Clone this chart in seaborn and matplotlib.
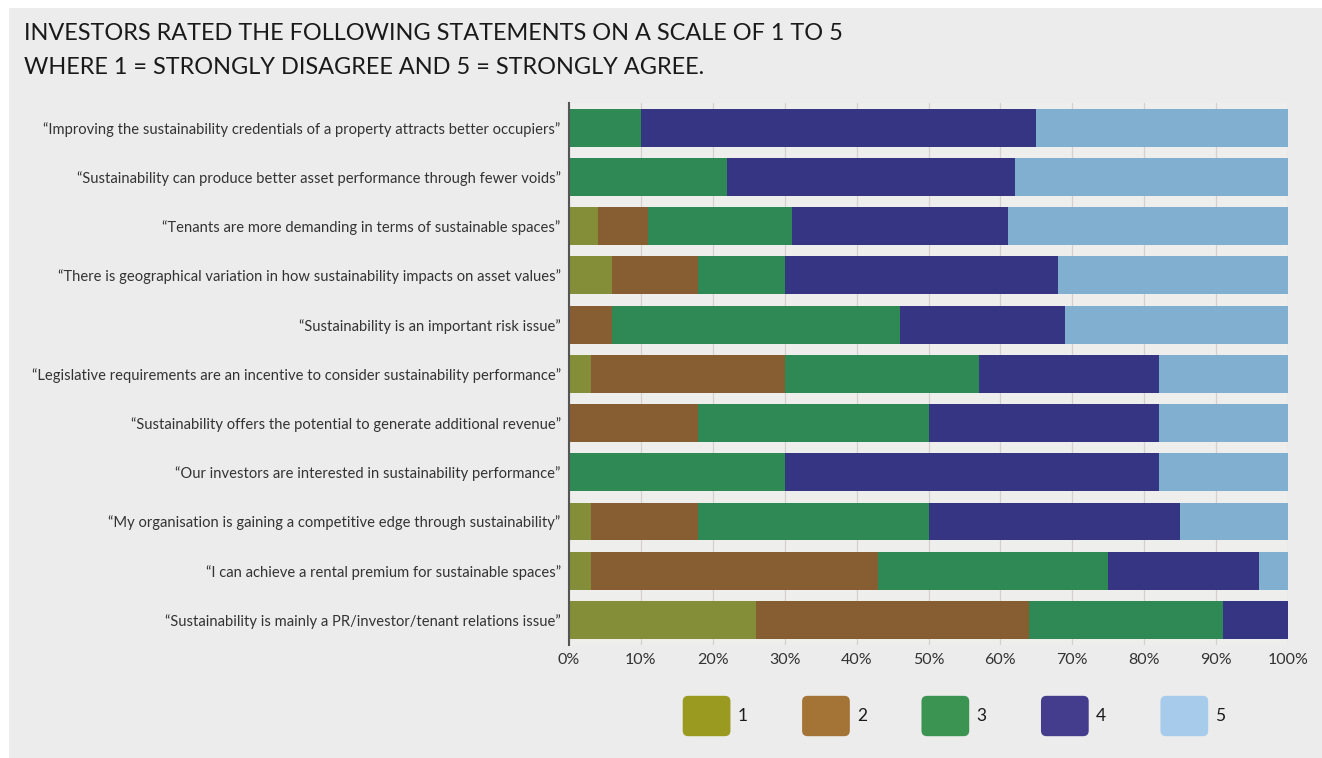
import matplotlib
matplotlib.use("Agg")
import matplotlib.pyplot as plt
import seaborn as sns
import numpy as np
import pandas as pd
from matplotlib.patches import Patch, Rectangle, FancyBboxPatch
from matplotlib.legend_handler import HandlerPatch

statements = [
    "\u201cImproving the sustainability credentials of a property attracts better occupiers\u201d",
    "\u201cSustainability can produce better asset performance through fewer voids\u201d",
    "\u201cTenants are more demanding in terms of sustainable spaces\u201d",
    "\u201cThere is geographical variation in how sustainability impacts on asset values\u201d",
    "\u201cSustainability is an important risk issue\u201d",
    "\u201cLegislative requirements are an incentive to consider sustainability performance\u201d",
    "\u201cSustainability offers the potential to generate additional revenue\u201d",
    "\u201cOur investors are interested in sustainability performance\u201d",
    "\u201cMy organisation is gaining a competitive edge through sustainability\u201d",
    "\u201cI can achieve a rental premium for sustainable spaces\u201d",
    "\u201cSustainability is mainly a PR/investor/tenant relations issue\u201d",
]
rating1 = [0, 0, 4, 6, 0, 3, 0, 0, 3, 3, 26]
rating2 = [0, 0, 7, 12, 6, 27, 18, 0, 15, 40, 38]
rating3 = [10, 22, 20, 12, 40, 27, 32, 30, 32, 32, 27]
rating4 = [55, 40, 30, 38, 23, 25, 32, 52, 35, 21, 9]
rating5 = [35, 38, 39, 32, 31, 18, 18, 18, 15, 4, 0]
legend_labels = ["1", "2", "3", "4", "5"]
tick_labels = ["0%", "10%", "20%", "30%", "40%", "50%", "60%", "70%", "80%", "90%", "100%"]

bar_colors = ["#848d37", "#875d32", "#2f8955", "#363583", "#80afcf"]
legend_colors = ["#9a9a20", "#a37436", "#3c9453", "#443d8d", "#a6cbeb"]


class RoundHandler(HandlerPatch):
    def create_artists(self, legend, orig_handle, xdescent, ydescent, width, height,
                       fontsize, trans):
        p = FancyBboxPatch((-xdescent + 2, -ydescent + 2), width - 4, height - 4,
                           boxstyle="round,pad=2,rounding_size=4",
                           facecolor=orig_handle.get_facecolor(), edgecolor="none",
                           transform=trans)
        return [p]


sns.set_theme(style="white")
plt.rcParams["font.family"] = ["Lato", "DejaVu Sans"]

fig = plt.figure(figsize=(13.22, 7.58), dpi=100)
fig.patch.set_facecolor("white")
fig.patches.append(Rectangle((9 / 1322, 0), 1, 1 - 8 / 758, transform=fig.transFigure,
                             facecolor="#ebeceb", edgecolor="none", zorder=-10))

ax = fig.add_axes([569 / 1322, 1 - 644.6 / 758, 719 / 1322, 541.6 / 758])
ax.set_facecolor("#eeefed")

series = [rating1, rating2, rating3, rating4, rating5]
cum = np.cumsum(np.array(series), axis=0)
for i in range(4, -1, -1):
    df = pd.DataFrame({"statement": statements, "value": cum[i]})
    sns.barplot(data=df, x="value", y="statement", orient="h", color=bar_colors[i],
                saturation=1, width=0.77, ax=ax, linewidth=0, zorder=3)

ax.set_xlim(0, 100)
ax.set_ylim(10.5, -0.5)
ax.set_xticks(np.arange(0, 101, 10))
ax.set_xticklabels(tick_labels)
ax.set_xlabel("")
ax.set_ylabel("")
ax.grid(axis="x", color="#d6cfcf", linewidth=0.9, zorder=0)
ax.set_axisbelow(True)
for s in ["top", "right", "bottom"]:
    ax.spines[s].set_visible(False)
ax.spines["left"].set_color("#555555")
ax.spines["left"].set_linewidth(1.5)
ax.spines["left"].set_zorder(5)
ax.tick_params(axis="x", length=0, pad=6, labelsize=11.5, labelcolor="#333333")
ax.tick_params(axis="y", length=0, pad=6, labelsize=10.6, labelcolor="#333333")

handles = [Patch(facecolor=c, edgecolor="none") for c in legend_colors]
fig.legend(handles, legend_labels, loc="center", bbox_to_anchor=(954 / 1322, 1 - 716 / 758),
           ncol=5, frameon=False, fontsize=12.5, handlelength=2.75, handleheight=3.2,
           handletextpad=0.4, columnspacing=3.15, labelcolor="#1a1a1a",
           handler_map={Patch: RoundHandler()})

fig.text(24 / 1322, 1 - 34 / 758,
         "INVESTORS RATED THE FOLLOWING STATEMENTS ON A SCALE OF 1 TO 5",
         fontsize=16.9, color="#1a1a1a", va="center", ha="left")
fig.text(24 / 1322, 1 - 67 / 758,
         "WHERE 1 = STRONGLY DISAGREE AND 5 = STRONGLY AGREE.",
         fontsize=16.9, color="#1a1a1a", va="center", ha="left")

fig.savefig("out.png", dpi=100)
